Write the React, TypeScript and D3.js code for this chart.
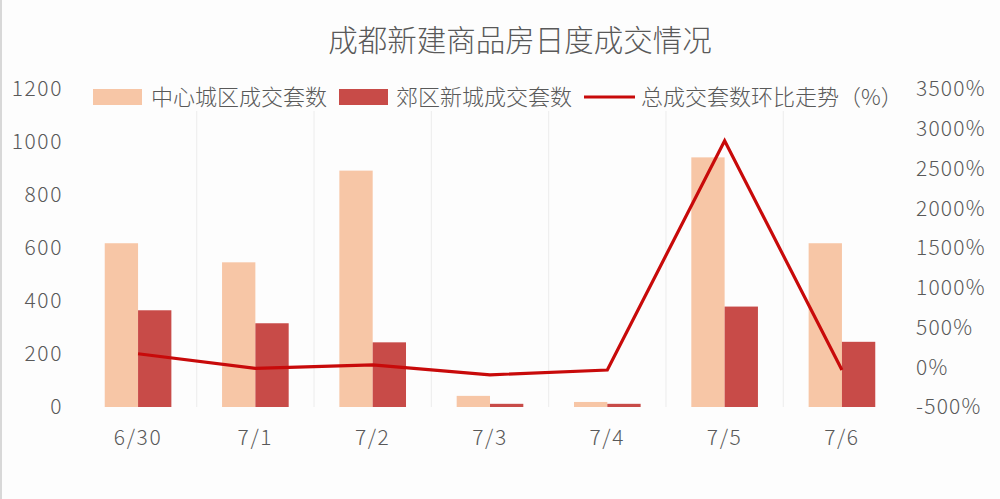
import React from "react";
import * as d3 from "d3";

const categories = ["6/30", "7/1", "7/2", "7/3", "7/4", "7/5", "7/6"];
const centralCity = [618, 546, 892, 42, 19, 942, 618];
const suburbCity = [365, 316, 244, 12, 12, 379, 246];
const totalChangePct = [170, -15, 30, -95, -35, 2850, -35];
const leftTicks = [0, 200, 400, 600, 800, 1000, 1200];
const rightTicks = [-500, 0, 500, 1000, 1500, 2000, 2500, 3000, 3500];

const title = "成都新建商品房日度成交情况";
const seriesNames = ["中心城区成交套数", "郊区新城成交套数", "总成交套数环比走势（%）"];

const W = 1000;
const H = 499;
const FONT = "'Noto Sans CJK SC', 'Noto Sans', sans-serif";
const TEXT = "#595959";
const LIGHT = "#F7C6A6";
const DARK = "#C84B48";
const LINE = "#C80A0A";

export default function App() {
  const x = d3.scaleBand<string>().domain(categories).range([79.4, 900.6]).paddingInner(0).paddingOuter(0);
  const yL = d3.scaleLinear().domain([0, 1200]).range([407, 89]);
  const yR = d3.scaleLinear().domain([-500, 3500]).range([407, 89]);
  const pairW = x.bandwidth() * 0.568;
  const sub = d3.scaleBand<number>().domain([0, 1]).range([-pairW / 2, pairW / 2]);

  const line = d3
    .line<number>()
    .x((_, i) => (x(categories[i]) as number) + x.bandwidth() / 2)
    .y((d) => yR(d));

  const cx = (c: string) => (x(c) as number) + x.bandwidth() / 2;

  return (
    <svg width={W} height={H} style={{ position: "absolute", left: 0, top: 0, background: "#fdfdfd" }} fontFamily={FONT}>
      <rect x={0} y={0} width={W} height={H} fill="#fdfdfd" />
      <line x1={1} x2={1} y1={0} y2={H} stroke="#d8d8d8" strokeWidth={2} />
      <text x={520} y={51} textAnchor="middle" fontSize={29.5} fill={TEXT} fontWeight={300}>
        {title}
      </text>

      {/* vertical grid lines */}
      {categories.slice(1).map((c) => (
        <line key={c} x1={x(c)} x2={x(c)} y1={yL(1200) + 22} y2={yL(0)} stroke="#ececec" strokeWidth={1} />
      ))}

      {/* bars */}
      {categories.map((c, i) => (
        <g key={c}>
          <rect
            x={cx(c) + (sub(0) as number)}
            y={yL(centralCity[i])}
            width={sub.bandwidth()}
            height={yL(0) - yL(centralCity[i])}
            fill={LIGHT}
          />
          <rect
            x={cx(c) + (sub(1) as number)}
            y={yL(suburbCity[i])}
            width={sub.bandwidth()}
            height={yL(0) - yL(suburbCity[i])}
            fill={DARK}
          />
        </g>
      ))}

      {/* line */}
      <path d={line(totalChangePct) || ""} fill="none" stroke={LINE} strokeWidth={3.2} strokeLinejoin="miter" />

      {/* left axis */}
      {leftTicks.map((t) => (
        <text key={t} x={63} y={yL(t)} dy="0.35em" textAnchor="end" fontSize={21} letterSpacing={1.6} fill={TEXT} fontWeight={300}>
          {t}
        </text>
      ))}
      {/* right axis */}
      {rightTicks.map((t) => (
        <text key={t} x={916} y={yR(t)} dy="0.35em" textAnchor="start" fontSize={21} letterSpacing={1.2} fill={TEXT} fontWeight={300}>
          {t}%
        </text>
      ))}
      {/* x axis labels */}
      {categories.map((c) => (
        <text key={c} x={cx(c)} y={438} dy="0.35em" textAnchor="middle" fontSize={21} letterSpacing={1.6} fill={TEXT} fontWeight={300}>
          {c}
        </text>
      ))}

      {/* legend */}
      <g>
        <rect x={93} y={89} width={49} height={16} fill={LIGHT} />
        <text x={151} y={97} dy="0.35em" fontSize={22} fill={TEXT} fontWeight={300}>
          {seriesNames[0]}
        </text>
        <rect x={339} y={89} width={49} height={16} fill={DARK} />
        <text x={396} y={97} dy="0.35em" fontSize={22} fill={TEXT} fontWeight={300}>
          {seriesNames[1]}
        </text>
        <line x1={584} x2={635} y1={97} y2={97} stroke={LINE} strokeWidth={3.2} />
        <text x={641} y={97} dy="0.35em" fontSize={22} fill={TEXT} fontWeight={300}>
          {seriesNames[2]}
        </text>
      </g>
    </svg>
  );
}
